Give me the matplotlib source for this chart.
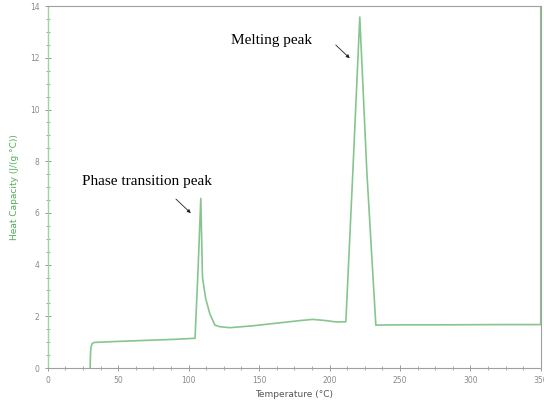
import numpy as np
import matplotlib.pyplot as plt
from matplotlib.ticker import MultipleLocator

# temperature (deg C) and heat capacity (J/(g C))
temp = [30.0, 30.3, 30.8, 31.5, 33.0, 50, 70, 90, 104.5, 106.5, 108.6, 109.8,
        112.0, 115.0, 118.6, 122, 129, 145, 165, 180, 188, 196.6, 205, 211.6,
        216.5, 221.5, 226.5, 232.9, 250, 280, 320, 349.5, 350, 350]
cp = [0.0, 0.6, 0.85, 0.95, 0.99, 1.03, 1.07, 1.11, 1.15, 3.6, 6.56, 3.5,
      2.7, 2.1, 1.66, 1.6, 1.56, 1.63, 1.75, 1.84, 1.88, 1.84, 1.78, 1.79,
      7.5, 13.58, 7.6, 1.66, 1.67, 1.67, 1.68, 1.68, 1.68, 15.0]

x_ticks = [0, 50, 100, 150, 200, 250, 300, 350]
y_ticks = [0, 2, 4, 6, 8, 10, 12, 14]

fig = plt.figure(figsize=(5.44, 4.08), dpi=100)
ax = fig.add_axes([0.088, 0.098, 0.906, 0.887])

ax.plot(temp, cp, color='#86c68e', lw=1.2)

ax.set_xlim(0, 350)
ax.set_ylim(0, 14)
ax.set_xticks(x_ticks)
ax.set_yticks(y_ticks)
ax.xaxis.set_minor_locator(MultipleLocator(12.5))
ax.yaxis.set_minor_locator(MultipleLocator(0.5))
ax.tick_params(which='both', direction='inout', colors='#8a8a8a',
               labelsize=5.5, labelcolor='#8a8a8a')
ax.tick_params(which='major', length=5, width=0.6)
ax.tick_params(which='minor', length=3, width=0.5)

for side in ['top', 'right', 'bottom']:
    ax.spines[side].set_color('#a0a0a0')
    ax.spines[side].set_linewidth(0.8)
ax.spines['left'].set_color('#9cd69c')
ax.spines['left'].set_linewidth(1.0)

ax.set_xlabel('Temperature (°C)', fontsize=6.5, color='#555555', labelpad=3)
ax.set_ylabel('Heat Capacity (J/(g·°C))', fontsize=6.5, color='#4fae55', labelpad=8)

serif = 'Liberation Serif'
ax.annotate('', xy=(102.9, 5.92), xytext=(89.5, 6.61),
            arrowprops=dict(arrowstyle='-|>', color='#222222', lw=0.6,
                            mutation_scale=5))
ax.text(70.6, 7.23, 'Phase transition peak', family=serif, fontsize=11,
        ha='center', va='center')
ax.annotate('', xy=(215.8, 11.91), xytext=(203, 12.57),
            arrowprops=dict(arrowstyle='-|>', color='#222222', lw=0.6,
                            mutation_scale=5))
ax.text(159, 12.68, 'Melting peak', family=serif, fontsize=11,
        ha='center', va='center')

fig.savefig('out.png', dpi=100)
